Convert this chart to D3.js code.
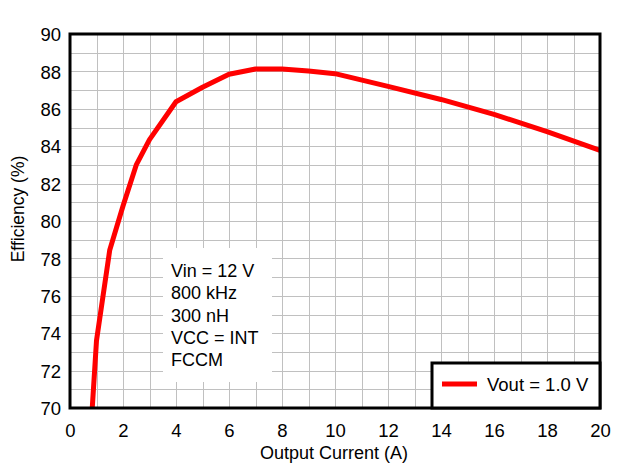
<!DOCTYPE html>
<html>
<head>
<meta charset="utf-8">
<script src="https://cdn.jsdelivr.net/npm/d3@7"></script>
<style>
  html, body { margin: 0; padding: 0; background: #fff; }
  svg { display: block; }
  text { font-family: Arial, "Liberation Sans", sans-serif; fill: #000; }
</style>
</head>
<body>
<svg id="chart" width="630" height="475"></svg>
<script>
// Data
const currentA = [0.84, 1.0, 1.5, 2.0, 2.5, 3.0, 4.0, 5.0, 6.0, 7.0, 8.0, 9.0, 10.0, 12.0, 14.0, 16.0, 18.0, 20.0];
const efficiencyPct = [70.0, 73.6, 78.45, 80.8, 83.0, 84.35, 86.38, 87.15, 87.85, 88.13, 88.13, 88.02, 87.88, 87.2, 86.5, 85.7, 84.78, 83.78];
const xTicks = [0, 2, 4, 6, 8, 10, 12, 14, 16, 18, 20];
const yTicks = [70, 72, 74, 76, 78, 80, 82, 84, 86, 88, 90];
const seriesName = "Vout = 1.0 V";
const noteLines = ["Vin = 12 V", "800 kHz", "300 nH", "VCC = INT", "FCCM"];
const xTitle = "Output Current (A)";
const yTitle = "Efficiency (%)";

const svg = d3.select("#chart");
const L = 70, R = 600, T = 34, B = 408;
const x = d3.scaleLinear().domain([0, 20]).range([L, R]);
const y = d3.scaleLinear().domain([70, 90]).range([B, T]);

// grid
const grid = svg.append("g").attr("stroke", "#c0c0c0").attr("stroke-width", 1).attr("shape-rendering", "crispEdges");
d3.range(1, 20, 1).forEach(v => {
  grid.append("line").attr("x1", Math.round(x(v)) + 0.5).attr("x2", Math.round(x(v)) + 0.5).attr("y1", T).attr("y2", B);
});
d3.range(71, 90, 1).forEach(v => {
  grid.append("line").attr("y1", Math.round(y(v)) + 0.5).attr("y2", Math.round(y(v)) + 0.5).attr("x1", L).attr("x2", R);
});

// annotation box (white background)
svg.append("rect").attr("x", 163).attr("y", 248).attr("width", 109).attr("height", 134).attr("fill", "#fff");
const note = svg.append("text").attr("font-size", 18);
noteLines.forEach((t, i) => {
  note.append("tspan").attr("x", 171).attr("y", 277 + i * 22.3).text(t);
});

// curve
const line = d3.line().x((d, i) => x(currentA[i])).y(d => y(d));
svg.append("path").datum(efficiencyPct)
  .attr("d", line).attr("fill", "none").attr("stroke", "#ff0000")
  .attr("stroke-width", 5).attr("stroke-linejoin", "round");

// frame
svg.append("rect").attr("x", L).attr("y", T).attr("width", R - L).attr("height", B - T)
  .attr("fill", "none").attr("stroke", "#000").attr("stroke-width", 3);

// legend
const lg = svg.append("g");
lg.append("rect").attr("x", 432).attr("y", 363).attr("width", R - 432).attr("height", B - 363)
  .attr("fill", "#fff").attr("stroke", "#000").attr("stroke-width", 3);
lg.append("line").attr("x1", 442).attr("x2", 477).attr("y1", 384).attr("y2", 384)
  .attr("stroke", "#ff0000").attr("stroke-width", 5);
lg.append("text").attr("x", 487).attr("y", 390.5).attr("font-size", 18.5).text(seriesName);

// axes labels (using d3 axes, then styling)
const xAxis = d3.axisBottom(x).tickValues(xTicks).tickSize(0).tickPadding(0).tickFormat(d3.format("d"));
const gx = svg.append("g").attr("transform", `translate(0,${B})`).call(xAxis);
gx.select(".domain").remove();
gx.selectAll("text").attr("font-size", 18.5).attr("font-family", "Arial, 'Liberation Sans', sans-serif")
  .attr("fill", "#000").attr("y", 29).attr("dy", 0);

const yAxis = d3.axisLeft(y).tickValues(yTicks).tickSize(0).tickPadding(0).tickFormat(d3.format("d"));
const gy = svg.append("g").attr("transform", `translate(${L},0)`).call(yAxis);
gy.select(".domain").remove();
gy.selectAll("text").attr("font-size", 18.5).attr("font-family", "Arial, 'Liberation Sans', sans-serif")
  .attr("fill", "#000").attr("x", -9).attr("dy", "0.36em");

// titles
svg.append("text").attr("x", 334).attr("y", 459).attr("text-anchor", "middle").attr("font-size", 18).text(xTitle);
svg.append("text").attr("transform", "translate(24,209) rotate(-90)").attr("text-anchor", "middle")
  .attr("font-size", 17.5).text(yTitle);
</script>
</body>
</html>
